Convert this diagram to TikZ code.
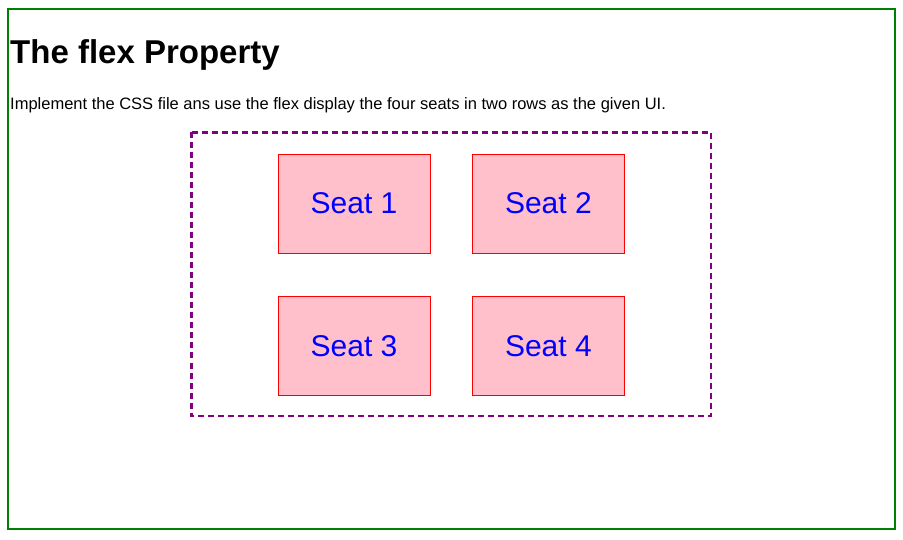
\documentclass[tikz,border=0pt]{standalone}
\usepackage{fontspec}
\setmainfont{Liberation Sans}
\usetikzlibrary{positioning}

\definecolor{seatpink}{RGB}{255,192,203}
\definecolor{pagegreen}{RGB}{0,128,0}
\definecolor{rowpurple}{RGB}{128,0,128}

\tikzset{
    seat/.style={draw=red,
        fill=seatpink,
        minimum width=152pt,
        minimum height=99pt,
        inner sep=0pt,
        text=blue,
        font=\fontsize{30}{36}\selectfont},
}

\begin{document}
\begin{tikzpicture}[x=1pt,y=-1pt]
\useasboundingbox (0,0) rectangle (903,540);
\draw[pagegreen, line width=2pt] (8,9) rectangle (895,529);
\node [anchor=base west, inner sep=0pt,
    font=\fontsize{33}{40}\selectfont\bfseries
    ] (title) at (10,64) {The flex Property};
\node [anchor=base west, inner sep=0pt,
    font=\fontsize{16.5}{20}\selectfont
    ] (intro) at (10,110)
    {Implement the CSS file ans use the flex display the four seats in two rows as the given UI.};
\draw[rowpurple, line width=2.5pt, dash pattern=on 6pt off 4pt]
    (191.5,132.5) rectangle (711,416);
\node [seat] (seatA) at (354,203.5) {Seat 1};
\node [seat, right=42pt of seatA] (seatB) {Seat 2};
\node [seat, below=43pt of seatA] (seatC) {Seat 3};
\node [seat, right=42pt of seatC] (seatD) {Seat 4};
\end{tikzpicture}
\end{document}
